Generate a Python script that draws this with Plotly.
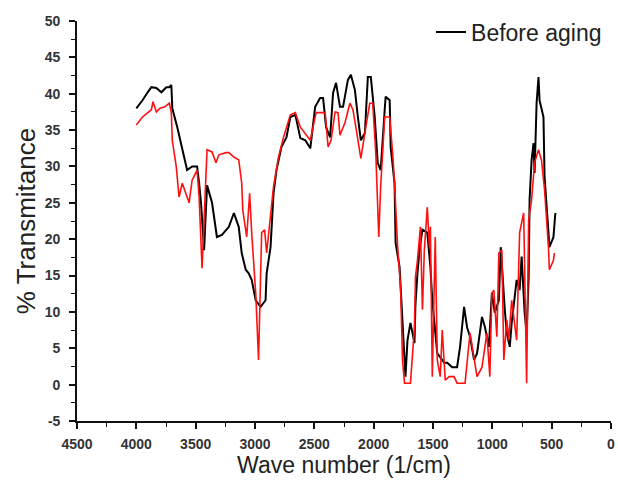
import plotly.graph_objects as go

# Before aging (black)
wn_before = [4000, 3948, 3900, 3873, 3831, 3789, 3747, 3722, 3705, 3697, 3655, 3613, 3572, 3530,
             3488, 3471, 3455, 3429, 3404, 3362, 3321, 3279, 3220, 3178, 3137, 3112, 3078, 3053,
             3028, 2994, 2953, 2911, 2902, 2869, 2844, 2819, 2777, 2735, 2702, 2660, 2635, 2618,
             2576, 2534, 2493, 2451, 2426, 2401, 2367, 2342, 2317, 2284, 2258, 2217, 2192, 2158,
             2133, 2108, 2074, 2049, 2024, 1991, 1966, 1941, 1907, 1899, 1865, 1857, 1824, 1815,
             1782, 1757, 1732, 1715, 1690, 1656, 1648, 1631, 1614, 1589, 1548, 1522, 1506, 1464,
             1439, 1405, 1380, 1338, 1297, 1272, 1238, 1213, 1188, 1154, 1129, 1087, 1062, 1029,
             1004, 979, 945, 929, 895, 878, 853, 837, 795, 770, 753, 728, 711, 694, 686, 669,
             653, 644, 627, 611, 602, 569, 560, 544, 527, 519, 485, 469]
t_before = [38.0, 39.1, 40.3, 40.9, 40.8, 40.2, 40.9, 40.9, 41.2, 38.0, 35.4, 32.3, 29.5, 30.0,
            30.0, 27.7, 25.0, 18.5, 27.4, 25.0, 20.3, 20.6, 21.7, 23.6, 21.7, 18.1, 15.8, 15.3,
            14.4, 11.6, 10.7, 11.6, 15.3, 18.9, 26.3, 29.5, 32.7, 34.0, 36.8, 37.1, 35.4, 33.9,
            33.6, 32.5, 38.2, 39.4, 39.4, 35.4, 34.0, 40.1, 41.5, 38.2, 38.2, 41.9, 42.6, 40.5,
            36.8, 33.6, 34.6, 42.3, 42.3, 36.8, 30.5, 29.5, 37.8, 39.6, 39.1, 32.7, 27.7, 19.5,
            16.2, 7.9, 1.1, 6.1, 8.5, 5.7, 11.0, 15.3, 18.5, 21.3, 20.9, 16.2, 11.6, 4.3,
            3.8, 3.0, 3.0, 2.4, 2.4, 5.2, 10.7, 7.9, 6.6, 3.4, 4.3, 9.3, 7.9, 5.2,
            12.6, 9.9, 11.6, 18.9, 10.3, 7.1, 5.2, 8.5, 14.4, 13.0, 17.6, 9.9, 7.1, 14.8, 25.4, 30.9,
            33.2, 29.1, 38.7, 42.3, 39.1, 36.8, 28.6, 24.0, 20.9, 18.9, 20.3, 23.6]

# After aging (red)
wn_after = [4000, 3948, 3873, 3860, 3831, 3800, 3760, 3722, 3705, 3697, 3664, 3640, 3613, 3580,
            3555, 3530, 3488, 3471, 3446, 3421, 3404, 3362, 3329, 3304, 3245, 3220, 3178, 3137,
            3112, 3103, 3078, 3070, 3045, 3028, 2994, 2970, 2944, 2919, 2902, 2869, 2844, 2802,
            2760, 2702, 2660, 2618, 2534, 2485, 2443, 2409, 2384, 2359, 2325, 2300, 2284, 2242,
            2200, 2175, 2150, 2116, 2108, 2066, 2033, 2008, 1982, 1957, 1941, 1907, 1865, 1840,
            1824, 1798, 1773, 1757, 1740, 1690, 1656, 1648, 1631, 1606, 1589, 1573, 1548, 1531,
            1522, 1506, 1481, 1464, 1439, 1422, 1405, 1397, 1364, 1322, 1297, 1230, 1188, 1154,
            1129, 1087, 1046, 1021, 1004, 987, 962, 945, 920, 903, 878, 862, 837, 795, 770, 736,
            711, 694, 669, 644, 611, 586, 560, 527, 519, 485, 477]
t_after = [35.7, 36.8, 37.8, 38.9, 37.5, 38.0, 38.2, 38.7, 37.4, 33.6, 30.0, 25.8, 27.7, 26.3,
           25.0, 28.1, 29.5, 25.8, 16.0, 25.8, 32.3, 32.0, 30.5, 31.6, 31.9, 31.9, 31.3, 30.9,
           27.7, 24.0, 20.9, 20.3, 26.3, 20.9, 12.6, 3.4, 20.9, 21.3, 18.1, 23.1, 27.2, 31.3,
           34.0, 37.1, 37.4, 35.4, 33.6, 37.4, 37.4, 37.4, 32.7, 33.6, 37.5, 37.4, 34.3, 36.0,
           38.7, 37.8, 35.4, 31.8, 31.1, 35.4, 38.7, 38.7, 31.8, 20.3, 27.2, 36.8, 36.8, 31.8,
           27.7, 18.9, 13.4, 3.4, 0.2, 0.2, 7.9, 14.8, 17.1, 21.7, 10.3, 18.5, 24.4, 19.0,
           21.7, 1.1, 20.3, 3.4, 1.1, 7.5, 1.6, 0.6, 1.1, 1.1, 0.2, 0.2, 7.1, 3.4,
           1.1, 2.4, 7.1, 1.1, 12.6, 13.0, 6.6, 18.1, 18.5, 3.4, 8.9, 6.1, 11.6, 6.1, 20.9, 23.6,
           0.2, 22.6, 25.4, 30.5, 32.3, 30.9, 26.8, 18.9, 15.8, 17.1, 18.1]

x_ticks = [4500, 4000, 3500, 3000, 2500, 2000, 1500, 1000, 500, 0]
x_ticktext = ["4500", "4000", "3500", "3000", "2500", "2000", "1500", "1000", "500", "0"]
y_ticks = [-5, 0, 5, 10, 15, 20, 25, 30, 35, 40, 45, 50]
y_ticktext = ["-5", "0", "5", "10", "15", "20", "25", "30", "35", "40", "45", "50"]

fig = go.Figure()
fig.add_trace(go.Scatter(x=wn_before, y=t_before, mode="lines", name="Before aging",
                         line=dict(color="#000000", width=2)))
fig.add_trace(go.Scatter(x=wn_after, y=t_after, mode="lines", name="After aging",
                         showlegend=False, line=dict(color="#ff1010", width=1.6)))

tick_font = dict(family="Liberation Sans", size=14, color="#333333", weight="bold")

fig.update_layout(
    width=618, height=480,
    margin=dict(l=77, r=3, t=21, b=59),
    paper_bgcolor="white", plot_bgcolor="white",
    showlegend=True,
    legend=dict(x=0.663, y=0.9725, xanchor="left", yanchor="middle",
                font=dict(family="Liberation Sans", size=23, color="#222222"),
                bgcolor="rgba(0,0,0,0)"),
    xaxis=dict(range=[4500, 0], tickvals=x_ticks, ticktext=x_ticktext,
               showgrid=False, zeroline=False, showline=True, linecolor="#111111", linewidth=1.6,
               ticks="outside", ticklen=6, tickwidth=1.5, tickcolor="#111111",
               tickfont=tick_font, ticklabelstandoff=3, ticklabeloverflow="allow",
               minor=dict(dtick=250, tick0=0, ticks="outside", ticklen=4, tickwidth=1.3,
                          tickcolor="#111111", showgrid=False),
               title=dict(text="Wave number (1/cm)", standoff=5,
                          font=dict(family="Liberation Sans", size=23, color="#222222"))),
    yaxis=dict(range=[-5, 50], tickvals=y_ticks, ticktext=y_ticktext,
               showgrid=False, zeroline=False, showline=True, linecolor="#111111", linewidth=1.6,
               ticks="outside", ticklen=6, tickwidth=1.5, tickcolor="#111111",
               tickfont=tick_font, ticklabelstandoff=6,
               minor=dict(dtick=2.5, tick0=0, ticks="outside", ticklen=4, tickwidth=1.3,
                          tickcolor="#111111", showgrid=False),
               title=dict(text="% Transmitance", standoff=2,
                          font=dict(family="Liberation Sans", size=26, color="#222222"))),
)

fig.write_html("out.html")
